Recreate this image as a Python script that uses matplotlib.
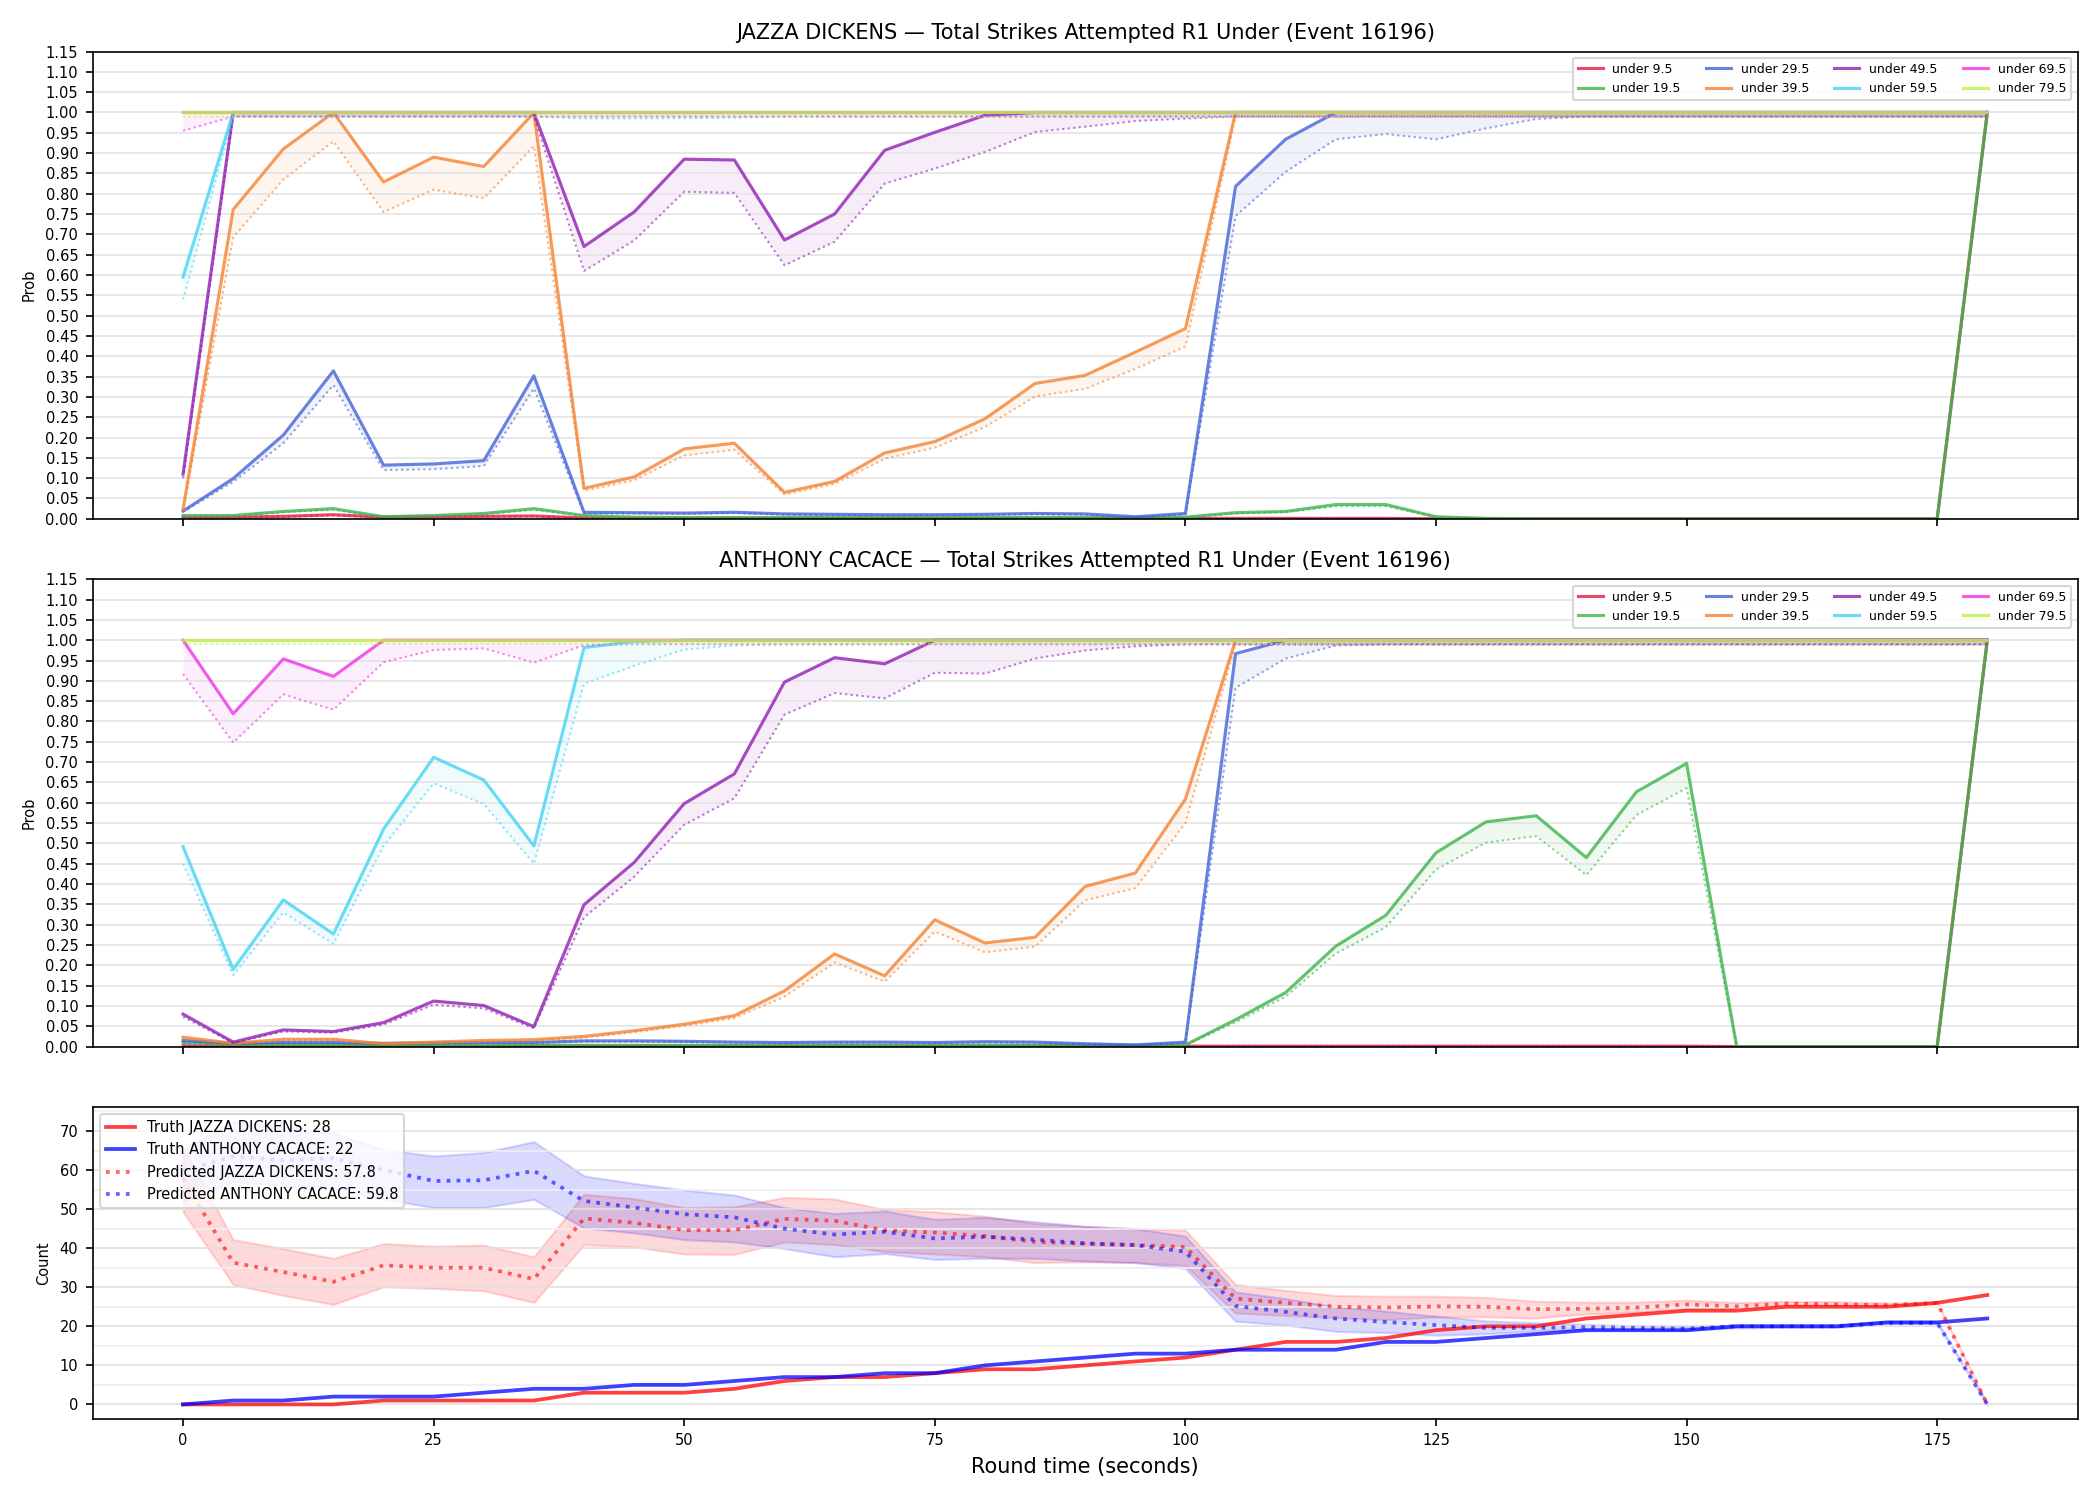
import numpy as np
import matplotlib
matplotlib.use("Agg")
import matplotlib.pyplot as plt
from matplotlib.ticker import MultipleLocator

# round time grid (seconds)
t = [0, 5, 10, 15, 20, 25, 30, 35, 40, 45, 50, 55, 60, 65, 70, 75, 80, 85, 90,
     95, 100, 105, 110, 115, 120, 125, 130, 135, 140, 145, 150, 155, 160, 165,
     170, 175, 180]

lines_labels = ["under 9.5", "under 19.5", "under 29.5", "under 39.5",
                "under 49.5", "under 59.5", "under 69.5", "under 79.5"]
line_colors = ["#e6194b", "#3cb44b", "#4363d8", "#f58231",
               "#911eb4", "#42d4f4", "#f032e6", "#bfef45"]

# ---- JAZZA DICKENS: solid = market, dotted = model ----
j_u95 = [0.003, 0.004, 0.006, 0.010, 0.004, 0.005, 0.006, 0.007, 0.002, 0.001, 0.001, 0.001, 0.001,
         0.001, 0.001, 0.001, 0.001, 0.001, 0.001, 0.001, 0.001, 0.001, 0.001, 0.001, 0.001, 0.0,
         0.0, 0.0, 0.0, 0.0, 0.0, 0.0, 0.0, 0.0, 0.0, 0.0, 1.0]
j_u95_p = [0.002, 0.003, 0.005, 0.008, 0.003, 0.004, 0.005, 0.006, 0.002, 0.001, 0.001, 0.001, 0.001,
           0.001, 0.001, 0.001, 0.001, 0.001, 0.001, 0.001, 0.001, 0.001, 0.001, 0.001, 0.001, 0.0,
           0.0, 0.0, 0.0, 0.0, 0.0, 0.0, 0.0, 0.0, 0.0, 0.0, 0.99]
j_u195 = [0.008, 0.008, 0.018, 0.025, 0.005, 0.008, 0.013, 0.025, 0.008, 0.004, 0.003, 0.003, 0.003,
          0.003, 0.003, 0.003, 0.003, 0.003, 0.003, 0.003, 0.004, 0.015, 0.018, 0.035, 0.035, 0.005,
          0.001, 0.0, 0.0, 0.0, 0.0, 0.0, 0.0, 0.0, 0.0, 0.0, 1.0]
j_u195_p = [0.007, 0.007, 0.016, 0.022, 0.004, 0.007, 0.011, 0.022, 0.007, 0.003, 0.003, 0.003, 0.003,
            0.003, 0.003, 0.003, 0.003, 0.003, 0.003, 0.002, 0.003, 0.013, 0.016, 0.031, 0.031, 0.004,
            0.001, 0.0, 0.0, 0.0, 0.0, 0.0, 0.0, 0.0, 0.0, 0.0, 0.99]
j_u295 = [0.019, 0.099, 0.206, 0.364, 0.132, 0.135, 0.143, 0.352, 0.016, 0.015, 0.014, 0.016, 0.012,
          0.011, 0.010, 0.010, 0.011, 0.013, 0.012, 0.005, 0.013, 0.818, 0.934, 1.0, 1.0, 1.0,
          1.0, 1.0, 1.0, 1.0, 1.0, 1.0, 1.0, 1.0, 1.0, 1.0, 1.0]
j_u295_p = [0.017, 0.091, 0.186, 0.329, 0.120, 0.122, 0.130, 0.321, 0.013, 0.013, 0.012, 0.014, 0.010,
            0.009, 0.009, 0.009, 0.010, 0.011, 0.010, 0.004, 0.011, 0.745, 0.854, 0.934, 0.947, 0.934,
            0.961, 0.984, 0.99, 0.99, 0.99, 0.99, 0.99, 0.99, 0.99, 0.99, 0.99]
j_u395 = [0.023, 0.761, 0.910, 1.0, 0.829, 0.890, 0.867, 0.999, 0.075, 0.103, 0.172, 0.186, 0.065,
          0.092, 0.162, 0.190, 0.246, 0.333, 0.353, 0.410, 0.468, 1.0, 1.0, 1.0, 1.0, 1.0,
          1.0, 1.0, 1.0, 1.0, 1.0, 1.0, 1.0, 1.0, 1.0, 1.0, 1.0]
j_u395_p = [0.020, 0.693, 0.835, 0.929, 0.755, 0.810, 0.789, 0.917, 0.069, 0.095, 0.156, 0.170, 0.060,
            0.086, 0.148, 0.175, 0.226, 0.301, 0.320, 0.369, 0.424, 0.99, 0.99, 0.99, 0.99, 0.99,
            0.99, 0.99, 0.99, 0.99, 0.99, 0.99, 0.99, 0.99, 0.99, 0.99, 0.99]
j_u495 = [0.110, 1.0, 1.0, 1.0, 1.0, 1.0, 1.0, 1.0, 0.670, 0.755, 0.885, 0.883, 0.686,
          0.750, 0.907, 0.951, 0.993, 1.0, 1.0, 1.0, 1.0, 1.0, 1.0, 1.0, 1.0, 1.0,
          1.0, 1.0, 1.0, 1.0, 1.0, 1.0, 1.0, 1.0, 1.0, 1.0, 1.0]
j_u495_p = [0.100, 0.99, 0.99, 0.99, 0.99, 0.99, 0.99, 0.99, 0.610, 0.685, 0.805, 0.802, 0.624,
            0.682, 0.825, 0.862, 0.903, 0.952, 0.965, 0.979, 0.985, 0.99, 0.99, 0.99, 0.99, 0.99,
            0.99, 0.99, 0.99, 0.99, 0.99, 0.99, 0.99, 0.99, 0.99, 0.99, 0.99]
j_u595 = [0.595, 1.0, 1.0, 1.0, 1.0, 1.0, 1.0, 1.0, 1.0, 1.0, 1.0, 1.0, 1.0,
          1.0, 1.0, 1.0, 1.0, 1.0, 1.0, 1.0, 1.0, 1.0, 1.0, 1.0, 1.0, 1.0,
          1.0, 1.0, 1.0, 1.0, 1.0, 1.0, 1.0, 1.0, 1.0, 1.0, 1.0]
j_u595_p = [0.540, 0.99, 0.99, 0.99, 0.99, 0.99, 0.99, 0.99, 0.985, 0.985, 0.986, 0.987, 0.99,
            0.99, 0.99, 0.99, 0.99, 0.99, 0.99, 0.99, 0.99, 0.99, 0.99, 0.99, 0.99, 0.99,
            0.99, 0.99, 0.99, 0.99, 0.99, 0.99, 0.99, 0.99, 0.99, 0.99, 0.99]
j_u695 = [1.0, 1.0, 1.0, 1.0, 1.0, 1.0, 1.0, 1.0, 1.0, 1.0, 1.0, 1.0, 1.0,
          1.0, 1.0, 1.0, 1.0, 1.0, 1.0, 1.0, 1.0, 1.0, 1.0, 1.0, 1.0, 1.0,
          1.0, 1.0, 1.0, 1.0, 1.0, 1.0, 1.0, 1.0, 1.0, 1.0, 1.0]
j_u695_p = [0.955, 0.99, 0.99, 0.99, 0.99, 0.99, 0.99, 0.99, 0.99, 0.99, 0.99, 0.99, 0.99,
            0.99, 0.99, 0.99, 0.99, 0.99, 0.99, 0.99, 0.99, 0.99, 0.99, 0.99, 0.99, 0.99,
            0.99, 0.99, 0.99, 0.99, 0.99, 0.99, 0.99, 0.99, 0.99, 0.99, 0.99]
j_u795 = [1.0, 1.0, 1.0, 1.0, 1.0, 1.0, 1.0, 1.0, 1.0, 1.0, 1.0, 1.0, 1.0,
          1.0, 1.0, 1.0, 1.0, 1.0, 1.0, 1.0, 1.0, 1.0, 1.0, 1.0, 1.0, 1.0,
          1.0, 1.0, 1.0, 1.0, 1.0, 1.0, 1.0, 1.0, 1.0, 1.0, 1.0]
j_u795_p = [0.99, 0.99, 0.99, 0.99, 0.99, 0.99, 0.99, 0.99, 0.99, 0.99, 0.99, 0.99, 0.99,
            0.99, 0.99, 0.99, 0.99, 0.99, 0.99, 0.99, 0.99, 0.99, 0.99, 0.99, 0.99, 0.99,
            0.99, 0.99, 0.99, 0.99, 0.99, 0.99, 0.99, 0.99, 0.99, 0.99, 0.99]

# ---- ANTHONY CACACE ----
a_u95 = [0.002, 0.001, 0.001, 0.001, 0.001, 0.001, 0.001, 0.001, 0.001, 0.001, 0.001, 0.001, 0.001,
         0.001, 0.001, 0.001, 0.001, 0.001, 0.001, 0.001, 0.001, 0.001, 0.001, 0.001, 0.001, 0.001,
         0.001, 0.001, 0.001, 0.001, 0.001, 0.0, 0.0, 0.0, 0.0, 0.0, 1.0]
a_u95_p = [0.001, 0.001, 0.001, 0.001, 0.001, 0.001, 0.001, 0.001, 0.001, 0.001, 0.001, 0.001, 0.001,
           0.001, 0.001, 0.001, 0.001, 0.001, 0.001, 0.001, 0.001, 0.001, 0.001, 0.001, 0.001, 0.001,
           0.001, 0.001, 0.001, 0.001, 0.001, 0.0, 0.0, 0.0, 0.0, 0.0, 0.99]
a_u195 = [0.010, 0.005, 0.005, 0.005, 0.003, 0.003, 0.003, 0.003, 0.003, 0.003, 0.003, 0.003, 0.003,
          0.003, 0.003, 0.003, 0.003, 0.003, 0.003, 0.003, 0.004, 0.066, 0.133, 0.247, 0.323, 0.477,
          0.553, 0.568, 0.465, 0.627, 0.697, 0.0, 0.0, 0.0, 0.0, 0.0, 1.0]
a_u195_p = [0.008, 0.004, 0.004, 0.004, 0.003, 0.003, 0.003, 0.003, 0.003, 0.003, 0.003, 0.003, 0.003,
            0.003, 0.003, 0.003, 0.003, 0.003, 0.003, 0.003, 0.003, 0.060, 0.123, 0.229, 0.294, 0.436,
            0.502, 0.518, 0.422, 0.570, 0.636, 0.0, 0.0, 0.0, 0.0, 0.0, 0.99]
a_u295 = [0.015, 0.008, 0.010, 0.010, 0.008, 0.009, 0.010, 0.010, 0.014, 0.014, 0.013, 0.011, 0.010,
          0.011, 0.011, 0.010, 0.012, 0.011, 0.007, 0.004, 0.011, 0.967, 1.0, 1.0, 1.0, 1.0,
          1.0, 1.0, 1.0, 1.0, 1.0, 1.0, 1.0, 1.0, 1.0, 1.0, 1.0]
a_u295_p = [0.013, 0.007, 0.009, 0.009, 0.007, 0.008, 0.009, 0.009, 0.012, 0.012, 0.011, 0.010, 0.009,
            0.010, 0.010, 0.009, 0.010, 0.010, 0.006, 0.004, 0.010, 0.883, 0.955, 0.987, 0.99, 0.99,
            0.99, 0.99, 0.99, 0.99, 0.99, 0.99, 0.99, 0.99, 0.99, 0.99, 0.99]
a_u395 = [0.023, 0.008, 0.018, 0.018, 0.007, 0.011, 0.015, 0.017, 0.025, 0.039, 0.055, 0.076, 0.137,
          0.228, 0.174, 0.312, 0.255, 0.269, 0.394, 0.427, 0.609, 1.0, 1.0, 1.0, 1.0, 1.0,
          1.0, 1.0, 1.0, 1.0, 1.0, 1.0, 1.0, 1.0, 1.0, 1.0, 1.0]
a_u395_p = [0.020, 0.007, 0.016, 0.016, 0.006, 0.010, 0.013, 0.015, 0.022, 0.035, 0.051, 0.070, 0.123,
            0.207, 0.160, 0.283, 0.232, 0.246, 0.360, 0.390, 0.550, 0.99, 0.99, 0.99, 0.99, 0.99,
            0.99, 0.99, 0.99, 0.99, 0.99, 0.99, 0.99, 0.99, 0.99, 0.99, 0.99]
a_u495 = [0.080, 0.011, 0.041, 0.037, 0.059, 0.112, 0.101, 0.049, 0.349, 0.453, 0.598, 0.671, 0.897,
          0.957, 0.942, 1.0, 1.0, 1.0, 1.0, 1.0, 1.0, 1.0, 1.0, 1.0, 1.0, 1.0,
          1.0, 1.0, 1.0, 1.0, 1.0, 1.0, 1.0, 1.0, 1.0, 1.0, 1.0]
a_u495_p = [0.073, 0.009, 0.037, 0.034, 0.054, 0.103, 0.094, 0.045, 0.318, 0.418, 0.546, 0.611, 0.817,
            0.870, 0.857, 0.920, 0.918, 0.955, 0.975, 0.985, 0.99, 0.99, 0.99, 0.99, 0.99, 0.99,
            0.99, 0.99, 0.99, 0.99, 0.99, 0.99, 0.99, 0.99, 0.99, 0.99, 0.99]
a_u595 = [0.492, 0.190, 0.361, 0.277, 0.535, 0.712, 0.656, 0.494, 0.982, 0.997, 1.0, 1.0, 1.0,
          1.0, 1.0, 1.0, 1.0, 1.0, 1.0, 1.0, 1.0, 1.0, 1.0, 1.0, 1.0, 1.0,
          1.0, 1.0, 1.0, 1.0, 1.0, 1.0, 1.0, 1.0, 1.0, 1.0, 1.0]
a_u595_p = [0.450, 0.176, 0.330, 0.253, 0.494, 0.648, 0.597, 0.450, 0.893, 0.937, 0.977, 0.987, 0.99,
            0.99, 0.99, 0.99, 0.99, 0.99, 0.99, 0.99, 0.99, 0.99, 0.99, 0.99, 0.99, 0.99,
            0.99, 0.99, 0.99, 0.99, 0.99, 0.99, 0.99, 0.99, 0.99, 0.99, 0.99]
a_u695 = [1.0, 0.819, 0.954, 0.911, 1.0, 1.0, 1.0, 1.0, 1.0, 1.0, 1.0, 1.0, 1.0,
          1.0, 1.0, 1.0, 1.0, 1.0, 1.0, 1.0, 1.0, 1.0, 1.0, 1.0, 1.0, 1.0,
          1.0, 1.0, 1.0, 1.0, 1.0, 1.0, 1.0, 1.0, 1.0, 1.0, 1.0]
a_u695_p = [0.917, 0.748, 0.867, 0.829, 0.946, 0.976, 0.980, 0.945, 0.988, 0.99, 0.99, 0.99, 0.99,
            0.99, 0.99, 0.99, 0.99, 0.99, 0.99, 0.99, 0.99, 0.99, 0.99, 0.99, 0.99, 0.99,
            0.99, 0.99, 0.99, 0.99, 0.99, 0.99, 0.99, 0.99, 0.99, 0.99, 0.99]
a_u795 = j_u795
a_u795_p = j_u795_p

jazza_solid = [j_u95, j_u195, j_u295, j_u395, j_u495, j_u595, j_u695, j_u795]
jazza_pred = [j_u95_p, j_u195_p, j_u295_p, j_u395_p, j_u495_p, j_u595_p, j_u695_p, j_u795_p]
cacace_solid = [a_u95, a_u195, a_u295, a_u395, a_u495, a_u595, a_u695, a_u795]
cacace_pred = [a_u95_p, a_u195_p, a_u295_p, a_u395_p, a_u495_p, a_u595_p, a_u695_p, a_u795_p]

# ---- counts ----
truth_jazza = [0, 0, 0, 0, 1, 1, 1, 1, 3, 3, 3, 4, 6, 7, 7, 8, 9, 9, 10, 11, 12, 14, 16, 16,
               17, 19, 20, 20, 22, 23, 24, 24, 25, 25, 25, 26, 28]
truth_cacace = [0, 1, 1, 2, 2, 2, 3, 4, 4, 5, 5, 6, 7, 7, 8, 8, 10, 11, 12, 13, 13, 14, 14, 14,
                16, 16, 17, 18, 19, 19, 19, 20, 20, 20, 21, 21, 22]
pred_jazza = [57.8, 36.3, 33.9, 31.4, 35.6, 35.0, 35.0, 32.1, 47.6, 46.5, 44.6, 44.6, 47.5, 47.0,
              44.6, 44.0, 43.1, 41.6, 41.2, 40.8, 40.3, 27.1, 26.0, 25.0, 24.8, 25.1, 25.0, 24.4,
              24.5, 24.8, 25.6, 25.1, 25.8, 25.6, 25.4, 26.0, 0.0]
pred_jazza_hi = [66.0, 42.2, 39.9, 37.4, 41.2, 40.5, 40.8, 37.8, 53.8, 52.7, 50.4, 50.6, 53.0, 52.6,
                 49.9, 49.3, 48.2, 46.3, 45.6, 45.0, 44.6, 30.7, 29.2, 27.9, 27.7, 27.7, 27.4, 26.4,
                 26.2, 26.2, 26.7, 26.1, 26.4, 26.3, 26.0, 26.2, 0.0]
pred_jazza_lo = [49.3, 30.7, 27.9, 25.6, 30.1, 29.7, 29.1, 26.1, 40.9, 40.3, 38.5, 38.4, 41.6, 40.9,
                 39.1, 38.5, 37.8, 36.3, 36.5, 36.3, 35.6, 23.4, 22.8, 22.2, 21.7, 22.4, 22.4, 22.1,
                 23.2, 23.6, 24.4, 24.6, 25.3, 25.2, 25.0, 25.9, 0.0]
pred_cacace = [59.8, 63.5, 62.5, 63.0, 60.0, 57.2, 57.4, 59.8, 52.1, 50.4, 48.7, 47.9, 45.0, 43.5,
               44.2, 42.5, 42.9, 42.2, 41.2, 40.8, 39.1, 25.2, 23.7, 22.0, 21.1, 20.3, 19.6, 19.6,
               19.8, 19.6, 19.4, 20.0, 20.0, 20.0, 20.9, 20.9, 0.0]
pred_cacace_hi = [65.0, 72.5, 71.0, 69.5, 65.3, 63.6, 64.5, 67.3, 58.5, 56.6, 54.9, 53.6, 50.4, 48.9,
                  49.5, 47.4, 47.9, 46.8, 45.6, 45.0, 43.1, 28.8, 27.1, 25.0, 23.9, 22.6, 21.4, 20.9,
                  20.5, 20.2, 20.0, 20.4, 20.4, 20.4, 21.3, 21.3, 0.0]
pred_cacace_lo = [52.0, 57.0, 56.0, 55.5, 52.5, 50.4, 50.4, 52.5, 45.2, 43.9, 42.2, 41.6, 39.9, 37.8,
                  38.6, 37.1, 37.4, 37.4, 36.7, 36.3, 34.8, 21.3, 20.3, 18.7, 18.4, 17.7, 18.1, 18.8,
                  19.2, 19.1, 18.9, 19.6, 19.7, 19.7, 20.6, 20.6, 0.0]

fig, axes = plt.subplots(3, 1, figsize=(14, 10), sharex=True,
                         gridspec_kw={"height_ratios": [3, 3, 2]})


def prob_panel(ax, solid, pred, title):
    for lab, col, s, p in zip(lines_labels, line_colors, solid, pred):
        ax.plot(t, s, color=col, lw=1.5, alpha=0.8, label=lab)
        ax.plot(t, p, color=col, lw=1.0, alpha=0.6, ls=":")
        ax.fill_between(t, s, p, color=col, alpha=0.08, lw=0)
    ax.set_ylim(0, 1.15)
    ax.set_yticks(np.arange(0, 1.151, 0.05))
    ax.set_ylabel("Prob", fontsize=7)
    ax.tick_params(labelsize=7)
    ax.grid(axis="y", color="#e4e4e4", lw=0.8)
    ax.set_title(title, fontsize=10)
    ax.legend(loc="upper right", ncol=4, fontsize=6)


prob_panel(axes[0], jazza_solid, jazza_pred,
           "JAZZA DICKENS — Total Strikes Attempted R1 Under (Event 16196)")
prob_panel(axes[1], cacace_solid, cacace_pred,
           "ANTHONY CACACE — Total Strikes Attempted R1 Under (Event 16196)")

ax = axes[2]
ax.plot(t, truth_jazza, color="red", lw=1.8, alpha=0.75, label="Truth JAZZA DICKENS: 28")
ax.plot(t, truth_cacace, color="blue", lw=1.8, alpha=0.75, label="Truth ANTHONY CACACE: 22")
ax.plot(t, pred_jazza, color="red", lw=1.8, alpha=0.6, ls=":", label="Predicted JAZZA DICKENS: 57.8")
ax.fill_between(t, pred_jazza_lo, pred_jazza_hi, color="red", alpha=0.15)
ax.plot(t, pred_cacace, color="blue", lw=1.8, alpha=0.6, ls=":", label="Predicted ANTHONY CACACE: 59.8")
ax.fill_between(t, pred_cacace_lo, pred_cacace_hi, color="blue", alpha=0.15)
ax.yaxis.set_minor_locator(MultipleLocator(5))
ax.grid(axis="y", which="major", color="#e0e0e0", lw=0.8)
ax.grid(axis="y", which="minor", color="#efefef", lw=0.8)
ax.tick_params(which="minor", length=0)
ax.tick_params(labelsize=7)
ax.set_ylabel("Count", fontsize=7)
ax.set_xlabel("Round time (seconds)", fontsize=10)
ax.legend(loc="upper left", fontsize=7)

plt.tight_layout()
plt.savefig("out.png", dpi=150)
